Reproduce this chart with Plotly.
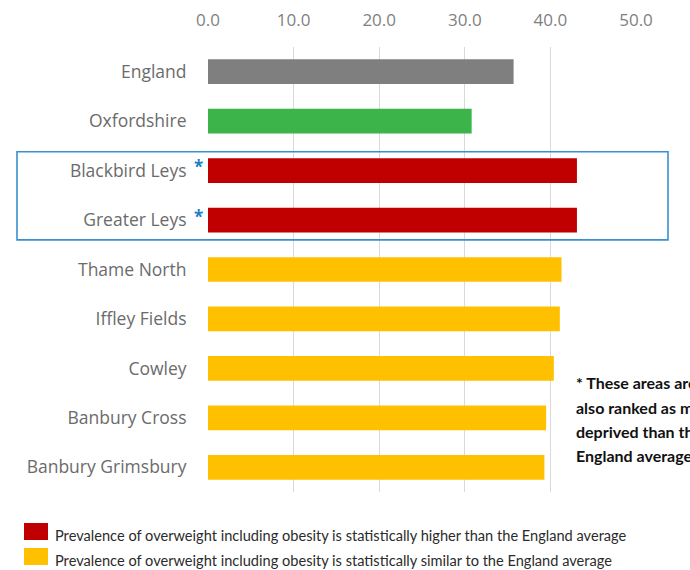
import plotly.graph_objects as go

categories = ["England", "Oxfordshire", "Blackbird Leys", "Greater Leys", "Thame North",
              "Iffley Fields", "Cowley", "Banbury Cross", "Banbury Grimsbury"]
values = [35.7, 30.8, 43.1, 43.1, 41.3, 41.1, 40.4, 39.5, 39.3]
bar_colors = ["#7f7f7f", "#3cb44a", "#c00000", "#c00000", "#ffc000",
              "#ffc000", "#ffc000", "#ffc000", "#ffc000"]
starred = ["Blackbird Leys", "Greater Leys"]
tick_vals = [0, 10, 20, 30, 40, 50]
tick_text = ["0.0", "10.0", "20.0", "30.0", "40.0", "50.0"]
legend_items = [
    ("#c00000", "Prevalence of overweight including obesity is statistically higher than the England average"),
    ("#ffc000", "Prevalence of overweight including obesity is statistically similar to the England average"),
]
note_lines = ["* These areas are", "also ranked as more", "deprived than the", "England average"]

W, H = 690, 570
L, R, T, B = 208, 54, 47, 78
PW, PH = W - L - R, H - T - B


def px_x(px):
    return (px - L) / PW


def px_y(py):
    return (H - B - py) / PH


fig = go.Figure()
fig.add_trace(go.Bar(
    x=values, y=categories, orientation="h",
    marker=dict(color=bar_colors, line=dict(width=0)),
    width=0.5, showlegend=False, hoverinfo="x+y",
))

# blue highlight box around starred areas
fig.add_shape(type="rect", xref="paper", yref="y",
              x0=px_x(17), x1=px_x(668), y0=1.62, y1=3.4,
              line=dict(color="#3a8fd0", width=1.6), fillcolor="rgba(0,0,0,0)")

for c in starred:
    fig.add_annotation(xref="paper", yref="y", x=px_x(198), y=c, yshift=4,
                       xanchor="center", text="<b>*</b>", showarrow=False,
                       font=dict(family="Open Sans", size=17, color="#1a7fc4"))

for i, line in enumerate(note_lines):
    fig.add_annotation(xref="paper", yref="paper", x=px_x(574), y=px_y(383 + 24 * i),
                       xanchor="left", yanchor="middle", align="left",
                       text="<b>" + line + "</b>", showarrow=False,
                       font=dict(family="Lato", size=16, color="#111111"))

for i, (col, txt) in enumerate(legend_items):
    top = 523 + i * 25
    fig.add_shape(type="rect", xref="paper", yref="paper",
                  x0=px_x(24), x1=px_x(48), y0=px_y(top), y1=px_y(top + 17),
                  line=dict(width=0), fillcolor=col)
    fig.add_annotation(xref="paper", yref="paper", x=px_x(53), y=px_y(top + 12),
                       xanchor="left", yanchor="middle", text=txt, showarrow=False,
                       font=dict(family="Lato", size=14.6, color="#2b2b2b"))

fig.update_layout(
    width=W, height=H,
    margin=dict(l=L, r=R, t=T, b=B),
    paper_bgcolor="white", plot_bgcolor="white",
    bargap=0.5,
    xaxis=dict(side="top", range=[0, 50], tickvals=tick_vals, ticktext=tick_text,
               showgrid=True, gridcolor="#d9d9d9", gridwidth=1, zeroline=False,
               showline=False, ticks="outside", ticklen=13, tickcolor="rgba(0,0,0,0)",
               tickfont=dict(family="Open Sans", size=17, color="#7f7f7f"),
               automargin=False, fixedrange=True),
    yaxis=dict(autorange="reversed", showgrid=False, zeroline=False, showline=False,
               ticks="outside", ticklen=17, tickcolor="rgba(0,0,0,0)",
               tickfont=dict(family="Open Sans", size=17.5, color="#6b6b6b"),
               automargin=False, fixedrange=True),
)

fig.write_html("out.html")
